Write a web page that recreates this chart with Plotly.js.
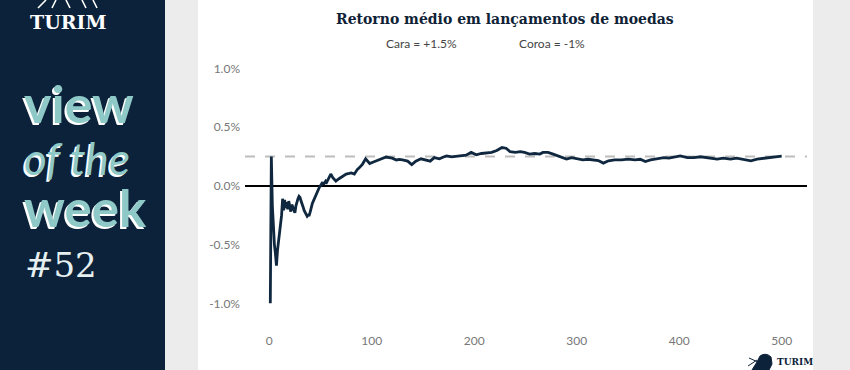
<!DOCTYPE html>
<html>
<head>
<meta charset="utf-8">
<script src="https://cdn.plot.ly/plotly-3.0.1.min.js"></script>
<style>
html,body{margin:0;padding:0;background:#fff;}
#chart{width:850px;height:370px;}
</style>
</head>
<body>
<div id="chart"></div>
<script>
// ---- data ----
const flips = [1,2,3,4,5,6,7,8,9,10,11,12,13,14,15,16,17,18,19,20,21,22,23,24,25,26,27,28,29,30,
  31,32,33,34,35,36,37,38,39,40,41,42,43,44,45,46,47,48,49,50,51,52,53,54,55,56,57,58,59,60,
  62,65,68,70,73,75,78,80,83,86,88,91,94,96,98,101,105,108,111,114,117,120,124,127,130,135,139,143,
  148,153,157,161,166,170,173,178,183,187,192,197,202,207,212,217,222,227,231,235,240,245,249,254,
  259,264,267,272,277,284,290,295,300,306,311,316,321,326,331,337,344,350,357,362,367,372,378,385,
  390,396,401,408,414,421,426,430,437,443,450,456,463,470,476,483,489,496,500];
const meanReturn = [-1.0,0.25,-0.17,-0.375,-0.5,-0.58,-0.68,-0.55,-0.47,-0.42,-0.36,-0.25,-0.11,-0.21,-0.12,-0.19,-0.14,-0.20,-0.13,-0.17,
  -0.22,-0.16,-0.19,-0.20,-0.23,-0.17,-0.13,-0.11,-0.09,-0.10,-0.13,-0.15,-0.18,-0.21,-0.23,-0.24,-0.26,-0.25,-0.25,-0.22,
  -0.18,-0.15,-0.13,-0.11,-0.08,-0.06,-0.04,-0.03,-0.01,0.0,0.02,0.03,0.01,0.03,0.04,0.03,0.05,0.07,0.09,0.10,
  0.07,0.04,0.06,0.07,0.085,0.10,0.105,0.11,0.10,0.14,0.155,0.185,0.23,0.21,0.19,0.20,0.215,0.225,0.24,0.245,0.24,0.235,0.22,0.225,0.22,0.21,0.18,0.21,
  0.23,0.22,0.21,0.24,0.23,0.245,0.255,0.247,0.25,0.255,0.26,0.284,0.264,0.275,0.28,0.284,0.30,0.326,0.32,0.29,0.284,0.29,0.284,0.27,
  0.275,0.27,0.284,0.284,0.27,0.247,0.227,0.24,0.233,0.22,0.226,0.22,0.215,0.193,0.213,0.22,0.22,0.227,0.22,0.226,0.207,0.22,0.227,0.24,
  0.235,0.247,0.255,0.24,0.24,0.247,0.24,0.235,0.227,0.235,0.227,0.235,0.227,0.213,0.227,0.235,0.24,0.247,0.253];
const expectedReturn = 0.25;
const yTickVals = [-1.0,-0.5,0.0,0.5,1.0];
const yTickText = ["-1.0%","-0.5%","0.0%","0.5%","1.0%"];
const xTickVals = [0,100,200,300,400,500];
const titleText = "Retorno médio em lançamentos de moedas";
const subHeads = "Cara = +1.5%";
const subTails = "Coroa = -1%";

// ---- layout helpers (pixel -> paper) ----
const L=245, R=807, T=42, B=328;
const W=R-L, H=B-T;
const X = px => (px-L)/W;
const Y = py => (B-py)/H;
const NAVY="#0c223a", TEAL="#8fc9c7", GREY="#ececec", LINE="#10283f";

const trace = {
  x: flips, y: meanReturn, type:"scatter", mode:"lines",
  line:{color:LINE, width:2.8}, hoverinfo:"skip"
};

const shapes = [
  {type:"rect", xref:"paper", yref:"paper", x0:X(0), x1:X(165), y0:Y(380), y1:Y(-10), fillcolor:NAVY, line:{width:0}, layer:"below"},
  {type:"rect", xref:"paper", yref:"paper", x0:X(165), x1:X(198), y0:Y(380), y1:Y(-10), fillcolor:GREY, line:{width:0}, layer:"below"},
  {type:"rect", xref:"paper", yref:"paper", x0:X(813), x1:X(860), y0:Y(380), y1:Y(-10), fillcolor:GREY, line:{width:0}, layer:"below"},
  {type:"line", xref:"paper", yref:"y", x0:0, x1:1, y0:expectedReturn, y1:expectedReturn, line:{color:"#bdbdbd", width:2, dash:"10px,10px"}, layer:"below"},
  // top-left logo strokes (cropped)
  {type:"path", xref:"paper", yref:"paper", path:`M ${X(38)} ${Y(8)} L ${X(46)} ${Y(0)} M ${X(52)} ${Y(8)} L ${X(56)} ${Y(0)} M ${X(70)} ${Y(8)} L ${X(66)} ${Y(0)} M ${X(86)} ${Y(8)} L ${X(82)} ${Y(0)} M ${X(97)} ${Y(8)} L ${X(93)} ${Y(0)}`, line:{color:"#ffffff", width:1.6}},
  // bottom-right bull icon (simplified)
  {type:"path", xref:"paper", yref:"paper", path:`M ${X(752)} ${Y(370)} L ${X(757)} ${Y(362)} L ${X(760)} ${Y(356)} Q ${X(766)} ${Y(352)} ${X(771)} ${Y(357)} L ${X(772)} ${Y(364)} L ${X(769)} ${Y(370)} Z`, fillcolor:NAVY, line:{color:NAVY, width:1}},
  {type:"path", xref:"paper", yref:"paper", path:`M ${X(748)} ${Y(366)} L ${X(757)} ${Y(360)} M ${X(749)} ${Y(358)} L ${X(758)} ${Y(362)}`, line:{color:NAVY, width:1}}
];

const annotations = [
  {text:titleText, xref:"paper", yref:"paper", x:X(504.5), y:Y(19), xanchor:"center", yanchor:"middle", showarrow:false,
   font:{family:"DejaVu Serif", size:14, weight:"bold", color:"#0f2236"}},
  {text:subHeads, xref:"paper", yref:"paper", x:X(384), y:Y(44), xanchor:"left", yanchor:"middle", showarrow:false,
   font:{family:"Lato", size:12, color:"#444"}},
  {text:subTails, xref:"paper", yref:"paper", x:X(516.5), y:Y(44), xanchor:"left", yanchor:"middle", showarrow:false,
   font:{family:"Lato", size:12, color:"#444"}},
  {text:"TURIM", xref:"paper", yref:"paper", x:X(68), y:Y(22), xanchor:"center", yanchor:"middle", showarrow:false,
   font:{family:"DejaVu Serif", size:19, weight:"bold", color:"#ffffff"}},
  {text:'<span style="font-size:52px;font-weight:bold">view</span><br><span style="font-size:44px;font-style:italic">of the</span><br><span style="font-size:51px;font-weight:bold">week</span>',
   xref:"paper", yref:"paper", x:X(22), y:Y(155), xanchor:"left", yanchor:"middle", align:"left", showarrow:false,
   font:{family:"Lato", size:40, color:TEAL, shadow:"-2px 2px 0 #ffffff"}},
  {text:"#52", xref:"paper", yref:"paper", x:X(23), y:Y(265), xanchor:"left", yanchor:"middle", showarrow:false,
   font:{family:"DejaVu Serif", size:34, color:"#e6f0f1"}},
  {text:"TURIM", xref:"paper", yref:"paper", x:X(775), y:Y(362), xanchor:"left", yanchor:"middle", showarrow:false,
   font:{family:"DejaVu Serif", size:9, weight:"bold", color:NAVY}}
];

const yTop = (185.8-T)/117.5, yBot = (185.8-B)/117.5;

const layout = {
  width:850, height:370,
  margin:{l:L, r:850-R, t:T, b:370-B, pad:0},
  paper_bgcolor:"#ffffff", plot_bgcolor:"rgba(0,0,0,0)",
  showlegend:false, hovermode:false,
  xaxis:{range:[-23.7,524.7], tickvals:xTickVals, showgrid:false, zeroline:false, showline:false, ticks:"",
         tickfont:{family:"Lato", size:12, color:"#777"}, ticklabelstandoff:4},
  yaxis:{range:[yBot,yTop], tickvals:yTickVals, ticktext:yTickText, showgrid:false, zeroline:true, zerolinecolor:"#000", zerolinewidth:1.5,
         showline:false, ticks:"", tickfont:{family:"Lato", size:12, color:"#777"}, ticklabelstandoff:4},
  shapes:shapes, annotations:annotations
};

Plotly.newPlot("chart", [trace], layout, {displayModeBar:false, staticPlot:true});
</script>
</body>
</html>
